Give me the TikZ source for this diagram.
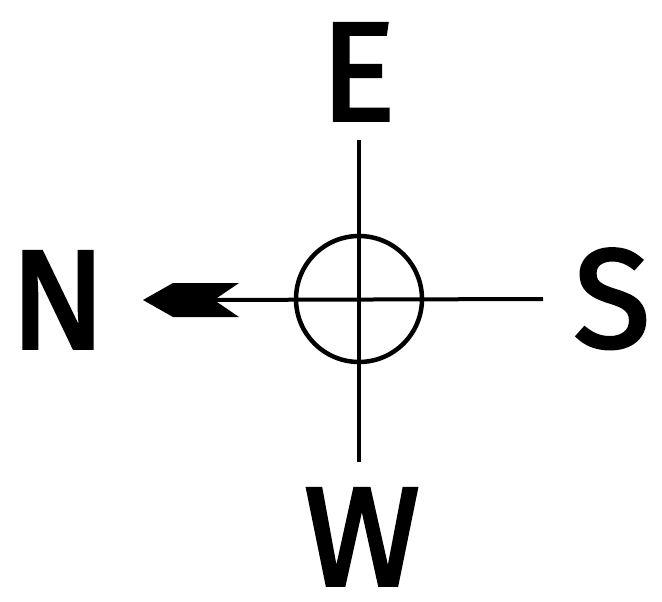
\documentclass[tikz,border=0pt]{standalone}
\usepackage{fontspec}
\setmainfont{Fira Sans}
\newfontfamily\compassfont{Fira Sans}[FakeBold=2.5]
\begin{document}
\begin{tikzpicture}[x=1pt,y=1pt,
  letter/.style={font=\fontsize{140}{140}\selectfont\compassfont, inner sep=0pt, anchor=base},
  ln/.style={line width=4pt},
  ring/.style={circle, draw, line width=4.5pt, minimum size=126pt, inner sep=0pt}]
\useasboundingbox (0,0) rectangle (662,-602);
\node[ring] (c) at (359,-299) {};
\coordinate (top) at (359,-140);
\coordinate (bot) at (359,-462);
\coordinate (tip) at (143,-300);
\coordinate (right) at (543,-299);
\draw[ln] (top) -- (bot);
\draw[ln] ([xshift=60pt]tip) -- (right);
\fill (tip) -- ++(30,17) -- ++(66,0) -- ++(-22,-15) -- ++(0,-4) -- ++(22,-15) -- ++(-66,0) -- cycle;
\node[letter] (E) at (358,-120) {E};
\node[letter] (N) at (58,-348) {N};
\node[letter] (S) at (612,-347) {S};
\node[letter] (W) at (362,-585) {W};
\end{tikzpicture}
\end{document}
